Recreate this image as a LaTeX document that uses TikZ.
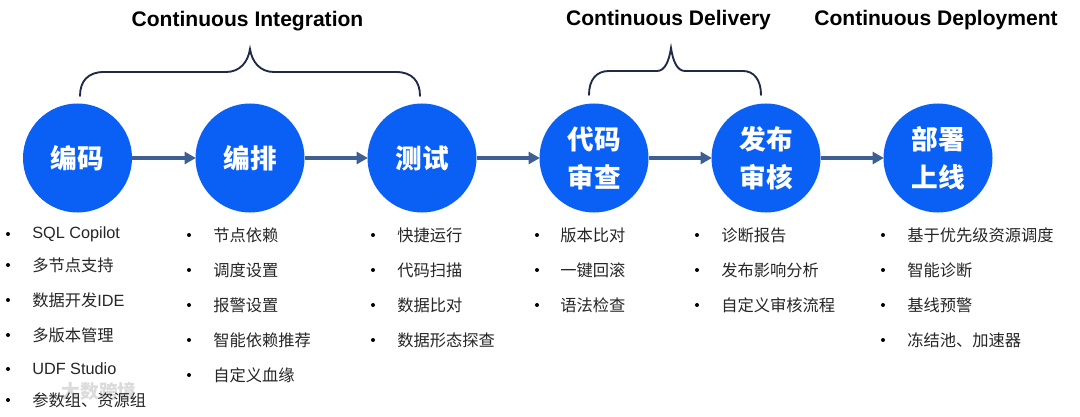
\documentclass[tikz,border=0pt]{standalone}
\usepackage{fontspec}
\setmainfont{Liberation Sans}
\newfontfamily\cjk{Noto Sans CJK SC}
\definecolor{cblue}{HTML}{0A60F5}
\definecolor{arrowc}{HTML}{3F5F92}
\definecolor{brace}{HTML}{1E2A47}
\definecolor{itmc}{HTML}{262626}
\usetikzlibrary{arrows.meta}
\tikzset{x=0.75pt,y=-0.75pt,
 circ/.style={circle,fill=cblue,minimum size=81.75pt,inner sep=0pt,text=white,align=center,font=\cjk\bfseries\fontsize{20pt}{28.5pt}\selectfont},
 conn/.style={draw=arrowc,line width=2.5pt,-{Triangle[length=8.5pt,width=9pt]},shorten >=-.5pt},
 brc/.style={draw=brace,line width=1.4pt,line cap=round},
 head/.style={font=\bfseries\fontsize{15.8pt}{18pt}\selectfont,text=black,inner sep=0pt},
 itm/.style={anchor=west,inner sep=0pt,text=itmc,font=\cjk\fontsize{12.2pt}{14pt}\selectfont},
 dot/.style={circle,fill=black,inner sep=0pt,minimum size=3pt},
 wm/.style={inner sep=0pt,text=black!14,font=\cjk\bfseries\fontsize{14pt}{15pt}\selectfont},
}
\newcommand{\itemrow}[5]{\node[dot] (d#1) at (#2,#4) {};\node[itm] (t#1) at (#3,#4) {#5};}
\begin{document}
\begin{tikzpicture}
\useasboundingbox (0,0) rectangle (1080,417);
\fill[white] (0,0) rectangle (1080,417);
\node[wm] (wmark) at (99,391) {大数跨境};
\node[circ] (a) at (77.5,158) {编码};
\node[circ] (b) at (250,158) {编排};
\node[circ] (c) at (422,158) {测试};
\node[circ] (d) at (594,158) {代码\\审查};
\node[circ] (e) at (766,158) {发布\\审核};
\node[circ] (f) at (938,158) {部署\\上线};
\foreach \p/\q in {a/b,b/c,c/d,d/e,e/f} \draw[conn] (\p) -- (\q);
\node[head] (h1) at (247.5,21) {Continuous Integration};
\node[head] (h2) at (668.5,20) {Continuous Delivery};
\node[head] (h3) at (936,20) {Continuous Deployment};
\coordinate (b1l) at (80,96); \coordinate (b1r) at (420,96); \coordinate (b1t) at (250,49);
\draw[brc] (b1l) .. controls (80,81) and (88,72) .. (104,72) -- (226,72) .. controls (240,72) and (248,62) .. (b1t) .. controls (252,62) and (260,72) .. (274,72) -- (396,72) .. controls (412,72) and (420,81) .. (b1r);
\coordinate (b2l) at (589,95); \coordinate (b2r) at (761,95); \coordinate (b2t) at (671,48);
\draw[brc] (b2l) .. controls (589,80) and (596,71) .. (609,71) -- (657,71) .. controls (665,71) and (669,61) .. (b2t) .. controls (673,61) and (677,71) .. (685,71) -- (743,71) .. controls (754,71) and (761,80) .. (b2r);
\itemrow{a1}{8}{32}{234}{\fontspec{Liberation Sans}SQL Copilot}
\itemrow{a2}{8}{32}{265}{多节点支持}
\itemrow{a3}{8}{32}{300}{数据开发{\fontspec{Liberation Sans}IDE}}
\itemrow{a4}{8}{32}{335}{多版本管理}
\itemrow{a5}{8}{32}{369}{\fontspec{Liberation Sans}UDF Studio}
\itemrow{a6}{8}{32}{400}{参数组、资源组}
\itemrow{b1}{189}{213}{235}{节点依赖}
\itemrow{b2}{189}{213}{270}{调度设置}
\itemrow{b3}{189}{213}{305}{报警设置}
\itemrow{b4}{189}{213}{340}{智能依赖推荐}
\itemrow{b5}{189}{213}{375}{自定义血缘}
\itemrow{c1}{373}{397}{235}{快捷运行}
\itemrow{c2}{373}{397}{270}{代码扫描}
\itemrow{c3}{373}{397}{305}{数据比对}
\itemrow{c4}{373}{397}{340}{数据形态探查}
\itemrow{d1}{537}{560}{235}{版本比对}
\itemrow{d2}{537}{560}{270}{一键回滚}
\itemrow{d3}{537}{560}{305}{语法检查}
\itemrow{e1}{697}{721}{235}{诊断报告}
\itemrow{e2}{697}{721}{270}{发布影响分析}
\itemrow{e3}{697}{721}{305}{自定义审核流程}
\itemrow{f1}{883}{907}{235}{基于优先级资源调度}
\itemrow{f2}{883}{907}{270}{智能诊断}
\itemrow{f3}{883}{907}{305}{基线预警}
\itemrow{f4}{883}{907}{340}{冻结池、加速器}
\end{tikzpicture}
\end{document}
